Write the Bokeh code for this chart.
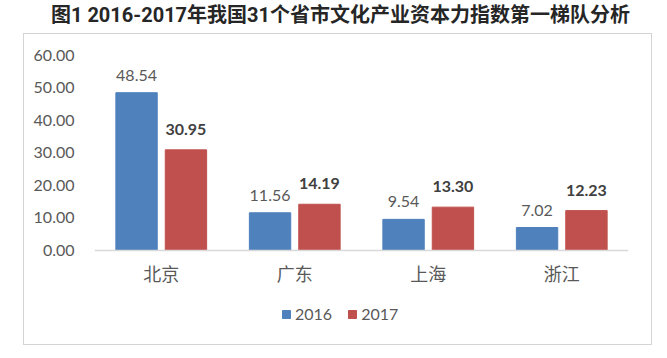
from bokeh.plotting import figure
from bokeh.layouts import column
from bokeh.models import (ColumnDataSource, FactorRange, FixedTicker, NumeralTickFormatter,
                          LabelSet, Legend, LegendItem, Range1d, Div)
from bokeh.core.properties import value
from bokeh.transform import dodge
from bokeh.embed import file_html
from bokeh.resources import INLINE

title_text = "图1 2016-2017年我国31个省市文化产业资本力指数第一梯队分析"
categories = ["北京", "广东", "上海", "浙江"]
series_names = ["2016", "2017"]
values_2016 = [48.54, 11.56, 9.54, 7.02]
values_2017 = [30.95, 14.19, 13.30, 12.23]
y_ticks = [0, 10, 20, 30, 40, 50, 60]

BLUE = "#4F81BD"
RED = "#C0504D"
GRAY = "#595959"

src = ColumnDataSource(dict(
    cat=categories,
    v16=values_2016,
    v17=values_2017,
    l16=[f"{v:.2f}" for v in values_2016],
    l17=[f"{v:.2f}" for v in values_2017],
))

title = Div(text=title_text, width=667, height=33, margin=0,
            styles={"font-family": "'Liberation Sans Narrow', Roboto, 'Noto Sans CJK SC', sans-serif",
                    "font-size": "20px", "font-weight": "bold", "color": "#262626",
                    "text-align": "center", "line-height": "24px", "padding-top": "3px",
                    "padding-left": "14px", "box-sizing": "border-box"})

p = figure(width=627, height=310, output_backend="svg", toolbar_location=None,
           x_range=FactorRange(factors=categories, range_padding=0),
           y_range=Range1d(-29.0, 60),
           min_border_left=70, min_border_right=23, min_border_top=21, min_border_bottom=0)
p.margin = (1, 0, 0, 24)
p.styles = {"outline": "1.5px solid #d4d4d4", "outline-offset": "0px"}

p.outline_line_color = None
p.grid.grid_line_color = None
p.background_fill_color = "white"
p.border_fill_color = "white"

bw = 0.31
r16 = p.vbar(x=dodge("cat", -0.185, range=p.x_range), top="v16", width=bw, source=src,
             fill_color=BLUE, line_color=BLUE)
r17 = p.vbar(x=dodge("cat", 0.185, range=p.x_range), top="v17", width=bw, source=src,
             fill_color=RED, line_color=RED)

lab16 = LabelSet(x=dodge("cat", -0.185, range=p.x_range), y="v16", text="l16", source=src,
                 text_align="center", text_baseline="bottom", y_offset=12,
                 text_font=value("Lato"), text_font_size="16px", text_color=GRAY)
lab17 = LabelSet(x=dodge("cat", 0.185, range=p.x_range), y="v17", text="l17", source=src,
                 text_align="center", text_baseline="bottom", y_offset=15,
                 text_font=value("Lato"), text_font_size="16px", text_font_style="bold",
                 text_color="#404040")
p.add_layout(lab16)
p.add_layout(lab17)

p.yaxis.ticker = FixedTicker(ticks=y_ticks)
p.yaxis.formatter = NumeralTickFormatter(format="0.00")
p.yaxis.axis_line_color = None
p.yaxis.major_tick_line_color = None
p.yaxis.major_tick_out = 0
p.yaxis.minor_tick_line_color = None
p.yaxis.major_label_text_font = "Lato"
p.yaxis.major_label_text_font_size = "16px"
p.yaxis.major_label_text_color = GRAY
p.yaxis.major_label_standoff = 20

p.xaxis.fixed_location = 0
p.xaxis.axis_line_color = "#d9d9d9"
p.xaxis.axis_line_width = 1.5
p.xaxis.major_tick_line_color = None
p.xaxis.major_tick_out = 0
p.xaxis.minor_tick_line_color = None
p.xaxis.major_label_text_font = "Noto Sans CJK SC"
p.xaxis.major_label_text_font_size = "18px"
p.xaxis.major_label_text_color = GRAY
p.xaxis.major_label_standoff = 10

legend = Legend(items=[LegendItem(label=series_names[0], renderers=[r16]),
                       LegendItem(label=series_names[1], renderers=[r17])],
                orientation="horizontal", location=(187, 21),
                border_line_color=None, background_fill_alpha=0,
                label_text_font="Lato", label_text_font_size="16px",
                label_text_color=GRAY, glyph_width=10, glyph_height=10,
                spacing=15, margin=0, padding=2, label_standoff=4)
p.add_layout(legend, "center")

layout = column(title, p, spacing=0)
open("out.html", "w").write(file_html(layout, INLINE))
